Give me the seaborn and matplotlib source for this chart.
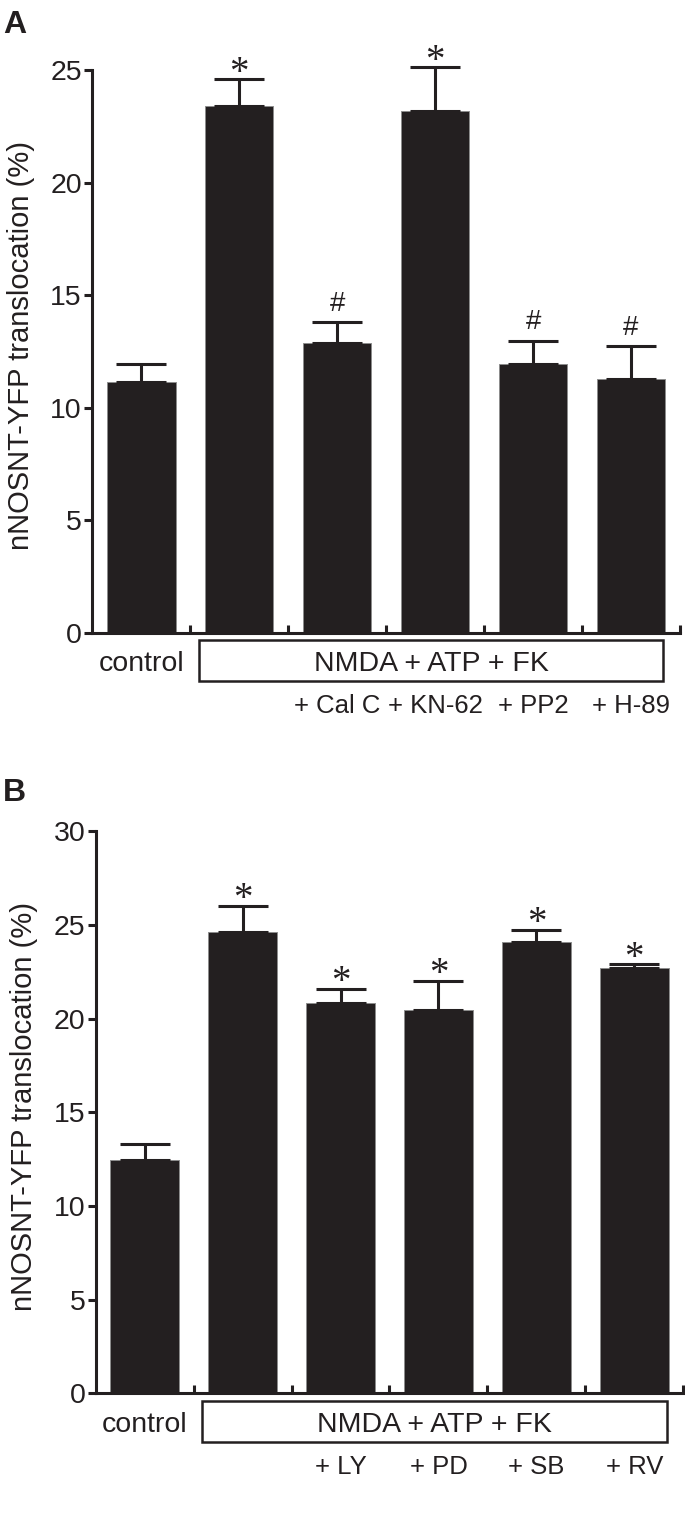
import numpy as np
import pandas as pd
import matplotlib
matplotlib.use("Agg")
import matplotlib.pyplot as plt
import seaborn as sns
from matplotlib.patches import Rectangle
from matplotlib.transforms import blended_transform_factory

# ---------------- data ----------------
categories_a = ["control", "NMDA + ATP + FK", "+ Cal C", "+ KN-62", "+ PP2", "+ H-89"]
means_a = [11.13, 23.42, 12.86, 23.17, 11.93, 11.26]
sem_a = [0.80, 1.18, 0.96, 1.96, 1.05, 1.48]
marks_a = ["", "*", "#", "*", "#", "#"]
sublabels_a = ["+ Cal C", "+ KN-62", "+ PP2", "+ H-89"]

categories_b = ["control", "NMDA + ATP + FK", "+ LY", "+ PD", "+ SB", "+ RV"]
means_b = [12.46, 24.64, 20.82, 20.46, 24.11, 22.72]
sem_b = [0.85, 1.39, 0.77, 1.57, 0.64, 0.18]
marks_b = ["", "*", "*", "*", "*", "*"]
sublabels_b = ["+ LY", "+ PD", "+ SB", "+ RV"]

ylabel_text = "nNOSNT-YFP translocation (%)"
group_text = "NMDA + ATP + FK"
yticks_a = [0, 5, 10, 15, 20, 25]
yticks_b = [0, 5, 10, 15, 20, 25, 30]

DARK = "#231f20"

sns.set_style("ticks")
plt.rcParams["font.family"] = ["Liberation Sans", "DejaVu Sans"]
plt.rcParams["text.color"] = DARK

fig = plt.figure(figsize=(6.85, 15.13), dpi=100)
ax_a = fig.add_axes([0.1347, 0.5818, 0.8580, 0.3719])
ax_b = fig.add_axes([0.1397, 0.0791, 0.8578, 0.3714])


def draw_panel(ax, cats, means, sems, marks, subs, yticks, letter, letter_y):
    df = pd.DataFrame({"cat": cats, "val": means})
    sns.barplot(data=df, x="cat", y="val", order=cats, color=DARK, width=0.70,
                edgecolor="#8c8c8c", linewidth=0.7, errorbar=None, ax=ax,
                saturation=1, zorder=2)
    n = len(cats)
    xs = np.arange(n)
    eb = ax.errorbar(xs, means, yerr=[np.zeros(n), sems], fmt="none", ecolor=DARK,
                     elinewidth=2.2, capsize=18, capthick=2.2, zorder=3)
    for part in eb.lines:
        if part is None:
            continue
        items = part if isinstance(part, (tuple, list)) else [part]
        for it in items:
            it.set_clip_on(False)
    for i, m in enumerate(marks):
        if not m:
            continue
        if m == "*":
            ax.annotate(m, xy=(i, means[i] + sems[i]), xytext=(0, -2.5),
                        textcoords="offset points", ha="center", va="baseline",
                        fontsize=28, family="Liberation Serif", color=DARK,
                        annotation_clip=False)
        else:
            ax.annotate(m, xy=(i, means[i] + sems[i]), xytext=(0, 8.0),
                        textcoords="offset points", ha="center", va="baseline",
                        fontsize=20, color=DARK, annotation_clip=False)

    ax.set_xlim(-0.5, n - 0.5)
    ax.set_ylim(0, yticks[-1])
    ax.set_yticks(yticks)
    ax.set_yticklabels([str(t) for t in yticks])
    ax.set_xticks(np.arange(n) + 0.5)
    ax.set_xlabel("")
    ax.tick_params(axis="x", direction="in", length=5.5, width=2.2,
                   color=DARK, labelbottom=False)
    ax.tick_params(axis="y", direction="out", length=5.5, width=2.2,
                   color=DARK, labelsize=20.5, pad=2, labelcolor=DARK)
    for s in ["top", "right"]:
        ax.spines[s].set_visible(False)
    for s in ["left", "bottom"]:
        ax.spines[s].set_linewidth(2.2)
        ax.spines[s].set_color(DARK)

    ax.set_ylabel(ylabel_text, fontsize=21, color=DARK)
    ax.yaxis.set_label_coords(-0.122, 0.51)
    ax.yaxis.label.set_verticalalignment("center")

    trans = blended_transform_factory(ax.transData, ax.transAxes)
    box = Rectangle((0.59, -0.0865), 5.33 - 0.59, 0.0865 - 0.0135,
                    transform=trans, clip_on=False, fill=False,
                    edgecolor=DARK, linewidth=1.8)
    ax.add_patch(box)
    ax.text((0.59 + 5.33) / 2, -0.068, group_text, transform=trans,
            ha="center", va="baseline", fontsize=20.5, color=DARK)
    ax.text(0, -0.068, cats[0], transform=trans, ha="center", va="baseline",
            fontsize=20.5, color=DARK)
    for j, lab in enumerate(subs):
        ax.text(2 + j, -0.143, lab, transform=trans, ha="center",
                va="baseline", fontsize=18.5, color=DARK)

    fig.text(0.004, letter_y, letter, fontsize=23, fontweight="bold",
             ha="left", va="top", color=DARK)


draw_panel(ax_a, categories_a, means_a, sem_a, marks_a, sublabels_a,
           yticks_a, "A", 0.9935)
draw_panel(ax_b, categories_b, means_b, sem_b, marks_b, sublabels_b,
           yticks_b, "B", 0.4855)

fig.savefig("out.png", dpi=100)
